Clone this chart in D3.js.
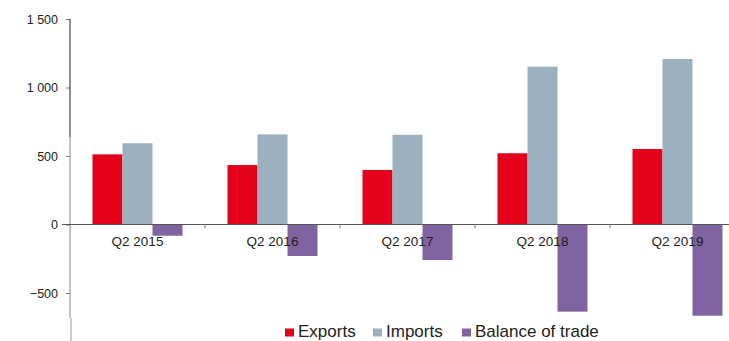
<!DOCTYPE html>
<html>
<head>
<meta charset="utf-8">
<script src="https://cdn.jsdelivr.net/npm/d3@7"></script>
<style>
  body { margin: 0; background: #fff; }
  text { font-family: "Liberation Sans", Arial, Helvetica, sans-serif; fill: #222; }
</style>
</head>
<body>
<svg id="chart" width="729" height="341"></svg>
<script>
// data
var quarters = ["Q2 2015", "Q2 2016", "Q2 2017", "Q2 2018", "Q2 2019"];
var exportsVals = [512, 434, 398, 520, 551];
var importsVals = [593, 658, 655, 1152, 1208];
var balanceVals = [-82, -230, -259, -636, -666];
var seriesNames = ["Exports", "Imports", "Balance of trade"];
var colors = ["#e2001a", "#9bb1c0", "#8064a2"];
var yTicks = [-500, 0, 500, 1000, 1500];

var svg = d3.select("#chart");
var W = 729, H = 341;

var x = d3.scaleBand().domain(quarters).range([70, 745])
    .paddingInner(1/3).paddingOuter(1/6);
var xs = d3.scaleBand().domain(seriesNames).range([0, x.bandwidth()]);
var y = d3.scaleLinear().domain([-500, 1500]).range([293, 19]);

var fmt = function (v) { return d3.format(",")(v).replace(/,/g, " "); };

// y axis
var yAxis = d3.axisLeft(y).tickValues(yTicks).tickSize(4).tickFormat(fmt);
var gy = svg.append("g").attr("transform", "translate(70,0)").call(yAxis);
gy.select(".domain").remove();
gy.selectAll(".tick line").attr("stroke", "#777");
gy.selectAll(".tick text").attr("x", -12).style("font-size", "12.5px")
  .style("font-family", "Liberation Sans, Arial, sans-serif").attr("fill", "#222");
svg.append("line").attr("x1", 70).attr("x2", 70).attr("y1", y(1500)).attr("y2", 137)
  .attr("stroke", "#444").attr("stroke-width", 1.2);
svg.append("line").attr("x1", 70).attr("x2", 70).attr("y1", 137).attr("y2", 318)
  .attr("stroke", "#888").attr("stroke-width", 1);
svg.append("line").attr("x1", 71).attr("x2", 71).attr("y1", 318).attr("y2", H)
  .attr("stroke", "#bbb").attr("stroke-width", 1.5);

// bars
var rows = quarters.map(function (q, i) {
  return { q: q, vals: [exportsVals[i], importsVals[i], balanceVals[i]] };
});
var groups = svg.append("g").selectAll("g").data(rows).enter().append("g")
  .attr("transform", function (d) { return "translate(" + x(d.q) + ",0)"; });
groups.selectAll("rect").data(function (d) {
    return d.vals.map(function (v, j) { return { name: seriesNames[j], v: v, c: colors[j] }; });
  })
  .enter().append("rect")
  .attr("x", function (d) { return xs(d.name); })
  .attr("width", xs.bandwidth())
  .attr("y", function (d) { return y(Math.max(0, d.v)); })
  .attr("height", function (d) { return Math.abs(y(d.v) - y(0)); })
  .attr("fill", function (d) { return d.c; });

// zero line with category separators
svg.append("line").attr("x1", 62).attr("x2", W).attr("y1", y(0)).attr("y2", y(0))
  .attr("stroke", "#555").attr("stroke-width", 1);
svg.selectAll(".sep").data(quarters.slice(1)).enter().append("line")
  .attr("x1", function (d) { return x(d) - x.step() * x.paddingInner() / 2; })
  .attr("x2", function (d) { return x(d) - x.step() * x.paddingInner() / 2; })
  .attr("y1", y(0)).attr("y2", y(0) + 4)
  .attr("stroke", "#777");

// category labels
svg.selectAll(".cat").data(quarters).enter().append("text")
  .attr("x", function (d) { return x(d) + x.bandwidth() / 2; })
  .attr("y", 246)
  .attr("text-anchor", "middle")
  .style("font-size", "13.5px")
  .text(function (d) { return d; });

// legend
var legendX = [285, 373, 462];
var lg = svg.selectAll(".lg").data(seriesNames).enter().append("g")
  .attr("transform", function (d, i) { return "translate(" + legendX[i] + ",0)"; });
lg.append("rect").attr("x", 0).attr("y", 328.5).attr("width", 9).attr("height", 8)
  .attr("fill", function (d, i) { return colors[i]; });
lg.append("text").attr("x", 13).attr("y", 337)
  .style("font-size", "17px")
  .text(function (d) { return d; });
</script>
</body>
</html>
